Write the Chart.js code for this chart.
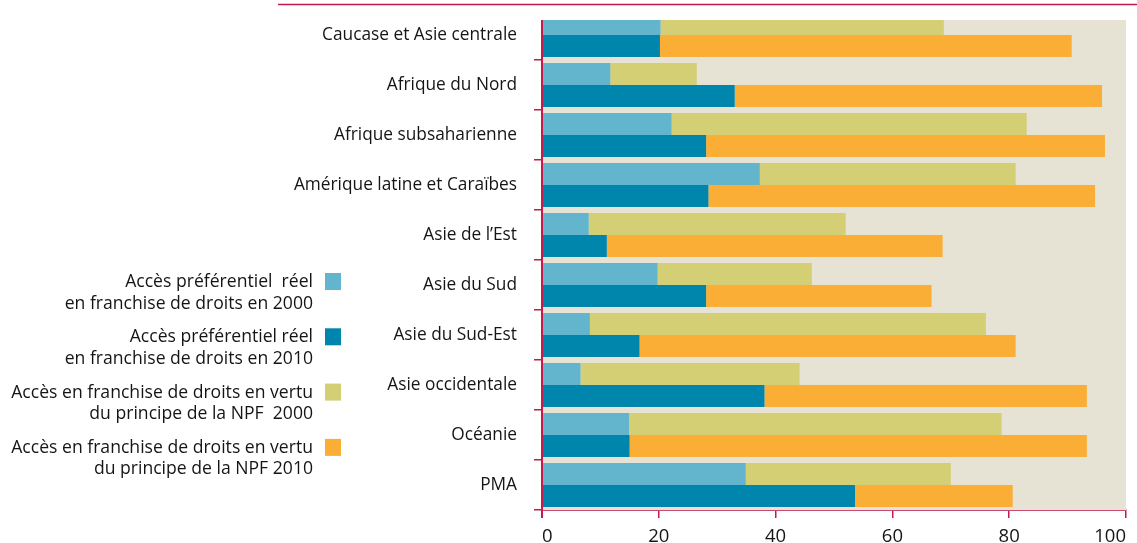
<!DOCTYPE html>
<html>
<head>
<meta charset="utf-8">
<script src="https://cdn.jsdelivr.net/npm/chart.js@4"></script>
<style>
html,body{margin:0;padding:0;background:#fff;}
#wrap{position:relative;width:1137px;height:543px;}
</style>
</head>
<body>
<div id="wrap"><canvas id="c" width="1137" height="543"></canvas></div>
<script>
const categories = ['Caucase et Asie centrale','Afrique du Nord','Afrique subsaharienne','Amérique latine et Caraïbes','Asie de l’Est','Asie du Sud','Asie du Sud-Est','Asie occidentale','Océanie','PMA'];
const pref2000 = [20.3, 11.7, 22.2, 37.3, 8.0, 19.8, 8.2, 6.6, 14.9, 34.9];
const pref2010 = [20.2, 33.0, 28.1, 28.5, 11.1, 28.1, 16.7, 38.1, 15.0, 53.6];
const mfn2000 = [48.5, 14.8, 60.8, 43.8, 44.0, 26.4, 67.8, 37.5, 63.8, 35.1];
const mfn2010 = [70.5, 62.9, 68.3, 66.2, 57.5, 38.6, 64.4, 55.2, 78.3, 27.0];
const xTicks = [0, 20, 40, 60, 80, 100];
const seriesLabels = [
  ['Accès préférentiel  réel', 'en franchise de droits en 2000'],
  ['Accès préférentiel réel', 'en franchise de droits en 2010'],
  ['Accès en franchise de droits en vertu', 'du principe de la NPF  2000'],
  ['Accès en franchise de droits en vertu', 'du principe de la NPF 2010']
];

const RED = '#c8194c';
const FONT = '"Open Sans", sans-serif';
const CLIP_TOP = 10;

const decor = {
  id: 'decor',
  beforeDatasetsDraw(chart) {
    const {ctx, chartArea: a} = chart;
    ctx.save();
    ctx.fillStyle = '#e6e3d4';
    ctx.fillRect(a.left, a.top + CLIP_TOP, a.right - a.left, a.bottom - a.top - CLIP_TOP);
    ctx.restore();
  },
  afterDraw(chart) {
    const {ctx, chartArea: a} = chart;
    ctx.save();
    ctx.strokeStyle = RED;
    ctx.lineWidth = 1.6;
    ctx.beginPath();
    ctx.moveTo(278, 4.5);
    ctx.lineTo(1137, 4.5);
    ctx.stroke();
    ctx.lineWidth = 2;
    ctx.beginPath();
    ctx.moveTo(a.left, a.top + CLIP_TOP);
    ctx.lineTo(a.left, a.bottom + 8);
    ctx.stroke();
    ctx.font = '17.6px ' + FONT;
    ctx.textAlign = 'right';
    ctx.textBaseline = 'middle';
    chart.data.datasets.forEach((ds, i) => {
      const y0 = 282 + i * 55.3;
      const lines = ds.label;
      ctx.fillStyle = '#151515';
      ctx.fillText(lines[0], 313, y0);
      ctx.fillText(lines[1], 313, y0 + 21.5);
      ctx.fillStyle = ds.backgroundColor;
      ctx.fillRect(325, y0 - 9, 16, 17);
    });
    ctx.restore();
  }
};

new Chart(document.getElementById('c'), {
  type: 'bar',
  data: {
    labels: categories,
    datasets: [
      {label: seriesLabels[0], data: pref2000, stack: 's2000', backgroundColor: '#63b5ce'},
      {label: seriesLabels[1], data: pref2010, stack: 's2010', backgroundColor: '#0086ad'},
      {label: seriesLabels[2], data: mfn2000, stack: 's2000', backgroundColor: '#d4ce74'},
      {label: seriesLabels[3], data: mfn2010, stack: 's2010', backgroundColor: '#fbae35'}
    ]
  },
  options: {
    indexAxis: 'y',
    responsive: false,
    animation: false,
    events: [],
    layout: {padding: {top: 10, right: 11, left: 0, bottom: 0}},
    datasets: {
      bar: {
        categoryPercentage: 0.88,
        barPercentage: 1.0,
        borderWidth: 0,
        clip: {left: 0, top: -CLIP_TOP, right: 0, bottom: 0}
      }
    },
    plugins: {legend: {display: false}, tooltip: {enabled: false}},
    scales: {
      x: {
        type: 'linear', stacked: true, min: 0, max: 100,
        afterBuildTicks(scale) { scale.ticks = xTicks.map(v => ({value: v})); },
        afterFit(scale) { scale.height = 33; scale.paddingLeft = 0; scale.paddingRight = 0; },
        ticks: {font: {family: FONT, size: 18.5}, color: '#151515', padding: 8, align: 'inner', maxRotation: 0},
        grid: {drawOnChartArea: false, drawTicks: true, tickLength: 8, color: RED, lineWidth: 1.5},
        border: {display: true, color: '#cc4a72', width: 2}
      },
      y: {
        type: 'category', stacked: true,
        afterFit(scale) { scale.width = 542; scale.paddingTop = 0; scale.paddingBottom = 0; },
        ticks: {font: {family: FONT, size: 17.3}, color: '#151515', padding: 17},
        grid: {
          offset: true, drawOnChartArea: false, drawTicks: true, tickLength: 8,
          color: (c) => c.index === 0 ? 'rgba(0,0,0,0)' : RED, lineWidth: 1.5
        },
        border: {display: false}
      }
    }
  },
  plugins: [decor]
});
</script>
</body>
</html>
